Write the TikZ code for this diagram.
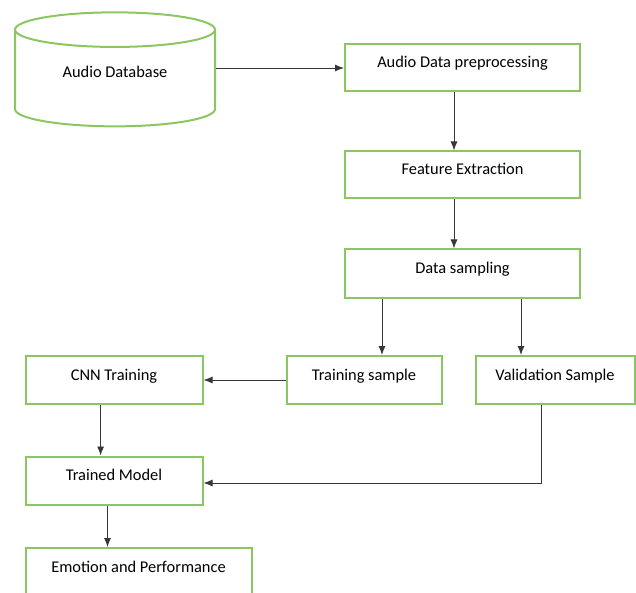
\documentclass[tikz,border=0pt]{standalone}
\usepackage{fontspec}
\setmainfont{Carlito}
\usetikzlibrary{shapes.geometric, arrows.meta}
\definecolor{boxgreen}{RGB}{140,198,98}
\definecolor{linegray}{RGB}{55,55,55}

\begin{document}
\begin{tikzpicture}[x=1pt,y=-1pt,>={Latex[length=9pt,width=7pt]},
      font=\fontsize{16.4}{19}\selectfont,
      step box/.style={rectangle,draw=boxgreen,line width=2pt,text height=9pt,text depth=9pt,inner sep=0pt},
      data base/.style={cylinder,shape border rotate=90,aspect=0.33,draw=boxgreen,line width=2pt,
        minimum width=200pt,minimum height=114pt,inner sep=0pt,text height=9pt,text depth=11.4pt},
      flow/.style={->,draw=linegray,line width=0.9pt}]

    \clip (0,0) rectangle (636,593);

    \node[data base] (db) at (115,78.5) {Audio Database};
    \node[step box,minimum width=235pt,minimum height=47pt] (pre) at (462.5,68) {Audio Data preprocessing};
    \node[step box,minimum width=235pt,minimum height=47pt] (feat) at (462.5,175) {Feature Extraction};
    \node[step box,minimum width=235pt,minimum height=48pt] (samp) at (462.5,273.5) {Data sampling};
    \node[step box,minimum width=155pt,minimum height=48pt] (train) at (364,380) {Training sample};
    \node[step box,minimum width=159pt,minimum height=48pt] (valid) at (555,380) {Validation Sample};
    \node[step box,minimum width=177pt,minimum height=48pt] (cnn) at (114,380) {CNN Training};
    \node[step box,minimum width=177pt,minimum height=48pt] (model) at (114,480.5) {Trained Model};
    \node[step box,minimum width=226pt,minimum height=48pt,anchor=north] (emo) at (138.5,547) {Emotion and Performance};

    \path[every edge/.style={flow}]
        (pre.west -| db.east) edge (pre.west)
        ([xshift=-8.5pt]pre.south) edge ([xshift=-8.5pt]feat.north)
        ([xshift=-8.5pt]feat.south) edge ([xshift=-8.5pt]samp.north)
        ([xshift=-80.5pt]samp.south) edge ([xshift=18pt]train.north)
        ([xshift=58.5pt]samp.south) edge ([xshift=-34pt]valid.north)
        (train.west) edge (cnn.east)
        ([xshift=-13.4pt]cnn.south) edge ([xshift=-13.4pt]model.north)
        ([xshift=-6.5pt]model.south) edge ([xshift=-31pt]emo.north)
    ;
    \draw[flow] ([xshift=-13.4pt]valid.south) |- ([yshift=-2.5pt]model.east);
\end{tikzpicture}
\end{document}
